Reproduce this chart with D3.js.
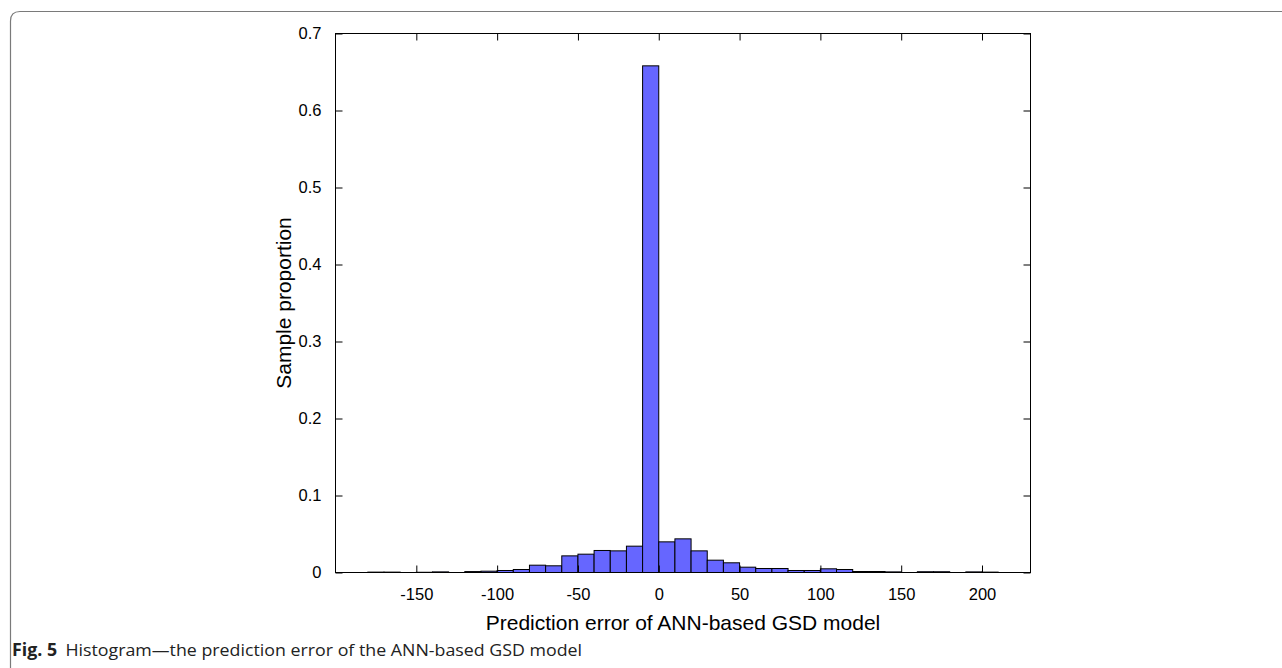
<!DOCTYPE html>
<html><head><meta charset="utf-8">
<script src="https://cdn.jsdelivr.net/npm/d3@7"></script>
<style>body{margin:0;background:#fff}svg{display:block}</style>
</head><body>
<svg id="c" width="1282" height="668"></svg>
<script>
// Bin left edges (width 10) and sample proportions
const binEdges = [-180,-170,-150,-140,-120,-110,-100,-90,-80,-70,-60,-50,-40,-30,-20,-10,0,10,20,30,40,50,60,70,80,90,100,110,120,130,140,160,170,190,200];
const proportions = [0.0005,0.0005,0.0003,0.0008,0.0012,0.0017,0.0026,0.0039,0.0095,0.0087,0.0216,0.0238,0.0286,0.0281,0.0342,0.658,0.0398,0.0437,0.0281,0.016,0.0126,0.0069,0.0052,0.0052,0.0026,0.0026,0.0048,0.0039,0.0013,0.0013,0.0008,0.001,0.001,0.0008,0.0005];
const binWidth = 10;
const xTicks = [-150,-100,-50,0,50,100,150,200];
const yTicks = [0,0.1,0.2,0.3,0.4,0.5,0.6,0.7];
const xTickLabels = ["-150","-100","-50","0","50","100","150","200"];
const yTickLabels = ["0","0.1","0.2","0.3","0.4","0.5","0.6","0.7"];
const xDomain = [-200,230];
const yDomain = [0,0.7];
const xLabel = "Prediction error of ANN-based GSD model";
const yLabel = "Sample proportion";

const svg = d3.select("#c");
svg.append("path")
  .attr("d","M10.5,668 L10.5,21 Q10.5,11.5 20,11.5 L1282,11.5")
  .attr("fill","none").attr("stroke","#7a7a7a").attr("stroke-width",1.2);

const L=335.5,R=1030.5,T=33.5,B=572.5;
const x = d3.scaleLinear().domain(xDomain).range([L,R]);
const y = d3.scaleLinear().domain(yDomain).range([B,T]);

const g = svg.append("g");
g.selectAll("rect.bar").data(binEdges.map((e,i)=>({e,v:proportions[i]})))
  .enter().append("rect").attr("class","bar")
  .attr("x",d=>x(d.e)).attr("width",d=>x(d.e+binWidth)-x(d.e))
  .attr("y",d=>y(d.v)).attr("height",d=>y(0)-y(d.v))
  .attr("fill","#6666ff").attr("stroke","#000").attr("stroke-width",1);

g.append("rect").attr("x",L).attr("y",T).attr("width",R-L).attr("height",B-T)
  .attr("fill","none").attr("stroke","#000").attr("stroke-width",1);

const font = "'Liberation Sans', Arial, sans-serif";
const xa = svg.append("g").attr("transform",`translate(0,${B})`)
  .call(d3.axisBottom(x).tickValues(xTicks).tickSize(-7).tickPadding(16).tickFormat((d,i)=>xTickLabels[i]));
const xt = svg.append("g").attr("transform",`translate(0,${T})`)
  .call(d3.axisTop(x).tickValues(xTicks).tickSize(-7).tickFormat(""));
const ya = svg.append("g").attr("transform",`translate(${L},0)`)
  .call(d3.axisLeft(y).tickValues(yTicks).tickSize(-7).tickPadding(14).tickFormat((d,i)=>yTickLabels[i]));
const yr = svg.append("g").attr("transform",`translate(${R},0)`)
  .call(d3.axisRight(y).tickValues(yTicks).tickSize(-7).tickFormat(""));
[xa,xt,ya,yr].forEach(a=>{
  a.select(".domain").remove();
  a.selectAll("line").attr("stroke","#000");
  a.selectAll("text").attr("font-family",font).attr("font-size",16.5).attr("fill","#000");
});

svg.append("text").attr("x",(L+R)/2).attr("y",630).attr("text-anchor","middle")
  .attr("font-family",font).attr("font-size",21).text(xLabel);
svg.append("text").attr("transform",`translate(291,${(T+B)/2}) rotate(-90)`).attr("text-anchor","middle")
  .attr("font-family",font).attr("font-size",21).text(yLabel);

const cap = svg.append("text").attr("x",12).attr("y",656)
  .attr("font-family","'Open Sans', 'Noto Sans', sans-serif").attr("font-size",17).attr("fill","#222")
  .attr("textLength",570).attr("lengthAdjust","spacingAndGlyphs");
cap.append("tspan").attr("font-weight","bold").text("Fig. 5");
cap.append("tspan").attr("dx",8).text("Histogram—the prediction error of the ANN-based GSD model");
</script>
</body></html>
